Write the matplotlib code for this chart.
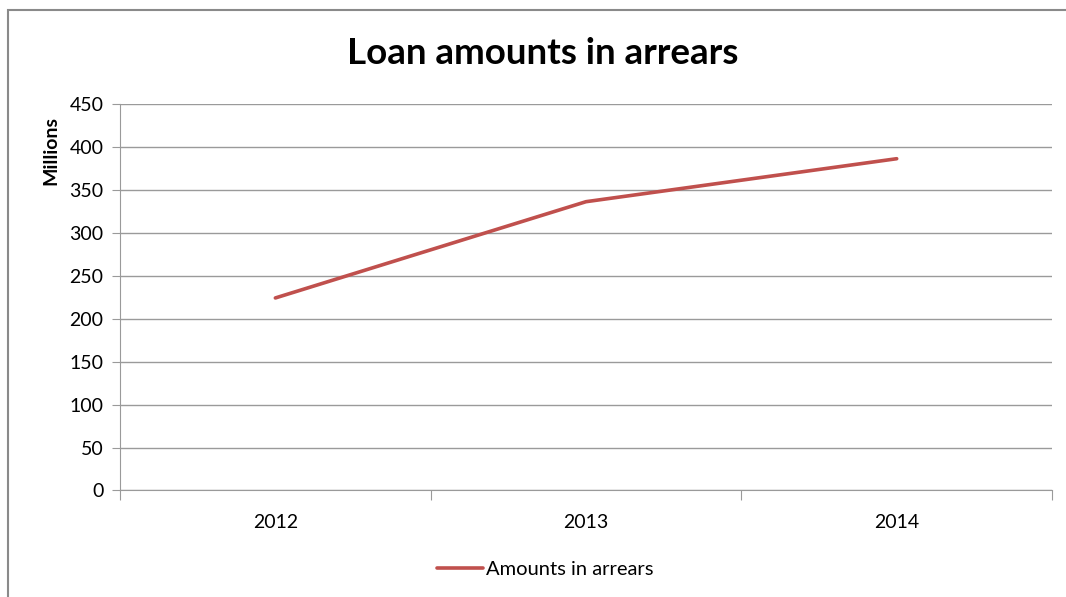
import numpy as np
import matplotlib.pyplot as plt
from matplotlib.patches import Rectangle

# data
years = ['2012', '2013', '2014']
arrears = [224, 336, 386]
y_ticks = [0, 50, 100, 150, 200, 250, 300, 350, 400, 450]

plt.rcParams['font.family'] = ['Lato', 'DejaVu Sans']

fig = plt.figure(figsize=(10.66, 5.97), dpi=100)
ax = fig.add_axes([0.1126, 0.1784, 0.8743, 0.6479])

# outer chart border (only left and top visible in the crop)
fig.patches.append(Rectangle((8 / 1066, -0.1), 1.2, 1 - 9.5 / 597 + 0.1,
                             transform=fig.transFigure, fill=False,
                             edgecolor='#8a8a8a', linewidth=1.5))

x = np.arange(len(years))
ax.plot(x, arrears, color='#C0504D', linewidth=2.6, solid_capstyle='round',
        label='Amounts in arrears')

ax.set_xlim(-0.5, len(years) - 0.5)
ax.set_ylim(0, 450)
ax.set_yticks(y_ticks)
ax.grid(axis='y', color='#9a9a9a', linewidth=1)
ax.set_axisbelow(True)

# category ticks sit on the boundaries, labels in the middle
ax.set_xticks(np.arange(-0.5, len(years), 1.0))
ax.set_xticklabels([])
ax.set_xticks(x, minor=True)
ax.set_xticklabels(years, minor=True)
ax.tick_params(axis='x', which='major', length=7, color='#9a9a9a', direction='out')
ax.tick_params(axis='x', which='minor', length=0, pad=17, labelsize=14)
ax.tick_params(axis='y', length=6, color='#9a9a9a', labelsize=14, pad=6)

for s in ['top', 'right']:
    ax.spines[s].set_visible(False)
ax.spines['left'].set_color('#9a9a9a')
ax.spines['bottom'].set_color('#9a9a9a')

ax.set_ylabel('Millions', fontsize=14, fontweight='bold')
ax.yaxis.set_label_coords(-0.065, 0.88)

fig.text(0.509, 0.91, 'Loan amounts in arrears', ha='center', va='center',
         fontsize=26.5, fontweight='bold')

ax.legend(loc='upper center', bbox_to_anchor=(0.456, -0.135), frameon=False,
          fontsize=14.5, handlelength=2.3, handletextpad=0.15)

fig.savefig('out.png', dpi=100)
